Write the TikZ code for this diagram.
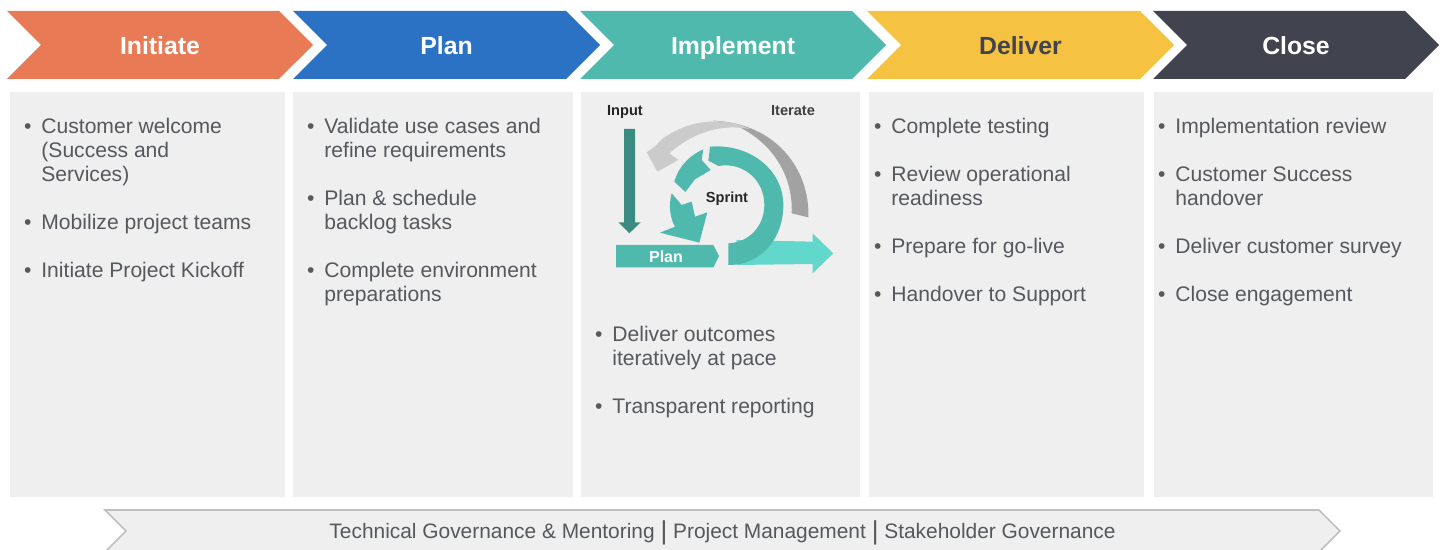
\documentclass[tikz,border=0pt]{standalone}
\usepackage{fontspec}
\setmainfont{Liberation Sans}
\usetikzlibrary{shapes.symbols}
\definecolor{initcol}{HTML}{E97A56}
\definecolor{plancol}{HTML}{2C72C4}
\definecolor{implcol}{HTML}{4FB9AE}
\definecolor{delvcol}{HTML}{F5C242}
\definecolor{closecol}{HTML}{41444F}
\definecolor{panelcol}{HTML}{EFEFEF}
\definecolor{textcol}{HTML}{55585C}
\definecolor{inputcol}{HTML}{3A8C80}
\definecolor{outcol}{HTML}{62D8CC}
\definecolor{iterdark}{HTML}{A2A2A2}
\definecolor{iterlight}{HTML}{CBCBCB}
\newcommand{\bul}{\strut\makebox[0pt][r]{\textbullet\hspace{5pt}}}
\newcommand{\tallbar}{{\fontsize{13}{13}\selectfont\raisebox{-0.4pt}{|}}}
\tikzset{
	phase/.style={signal, signal to=east, signal from=west, signal pointer angle=90,
		minimum height=34pt, inner sep=0pt, outer sep=0pt, text=white,
		text height=9.6pt, text depth=0pt,
		font=\fontsize{12.4}{14}\selectfont\bfseries},
	panel/.style={anchor=north west, fill=panelcol, minimum height=202.5pt, inner sep=0pt},
	itemtext/.style={anchor=north west, inner sep=0pt, align=left, text=textcol,
		font=\fontsize{10.55}{12}\selectfont},
	smalllabel/.style={inner sep=0pt, text height=5.3pt, text depth=0pt,
		font=\fontsize{7.3}{8}\selectfont\bfseries}
}
\begin{document}
\begin{tikzpicture}[x=0.5pt, y=-0.5pt]
	\useasboundingbox (0,0) rectangle (1443,550);
	\node[phase, fill=initcol, minimum width=153pt] (initiate) at (160,45) {Initiate};
	\node[phase, fill=plancol, minimum width=153.5pt] (plan) at (446.5,45) {Plan};
	\node[phase, fill=implcol, minimum width=153pt] (implement) at (733,45) {Implement};
	\node[phase, fill=delvcol, text=closecol, minimum width=153.5pt] (deliver) at (1020.5,45) {Deliver};
	\node[phase, fill=closecol, minimum width=143pt] (close) at (1296,45) {Close};
	\node[panel, minimum width=137.5pt] (initpanel) at (10,92) {};
	\node[panel, minimum width=140pt] (planpanel) at (293,92) {};
	\node[panel, minimum width=139.5pt] (implpanel) at (581,92) {};
	\node[panel, minimum width=137.5pt] (delvpanel) at (869,92) {};
	\node[panel, minimum width=139.5pt] (closepanel) at (1154,92) {};
	\node[itemtext] (init1) at (41,116) {\bul Customer welcome\\(Success and\\Services)};
	\node[itemtext] (init2) at (41,212) {\bul Mobilize project teams};
	\node[itemtext] (init3) at (41,260) {\bul Initiate Project Kickoff};
	\node[itemtext] (plan1) at (324,116) {\bul Validate use cases and\\refine requirements};
	\node[itemtext] (plan2) at (324,188) {\bul Plan \& schedule\\backlog tasks};
	\node[itemtext] (plan3) at (324,260) {\bul Complete environment\\preparations};
	\node[itemtext] (impl1) at (612,324) {\bul Deliver outcomes\\iteratively at pace};
	\node[itemtext] (impl2) at (612,396) {\bul Transparent reporting};
	\node[itemtext] (delv1) at (891,116) {\bul Complete testing};
	\node[itemtext] (delv2) at (891,164) {\bul Review operational\\readiness};
	\node[itemtext] (delv3) at (891,236) {\bul Prepare for go-live};
	\node[itemtext] (delv4) at (891,284) {\bul Handover to Support};
	\node[itemtext] (close1) at (1175,116) {\bul Implementation review};
	\node[itemtext] (close2) at (1175,164) {\bul Customer Success\\handover};
	\node[itemtext] (close3) at (1175,236) {\bul Deliver customer survey};
	\node[itemtext] (close4) at (1175,284) {\bul Close engagement};
	\node[signal, signal to=east, signal from=west, signal pointer angle=90, draw=black!25, fill=panelcol,
		line width=0.8pt, minimum width=617.5pt, minimum height=21pt, inner sep=0pt, text=textcol,
		text height=7.6pt, text depth=0pt,
		font=\fontsize{10.45}{12}\selectfont] (governance) at (722.5,531)
		{Technical Governance \& Mentoring \tallbar{} Project Management \tallbar{} Stakeholder Governance};
	\begin{scope}[shift={(580,90)}, scale=1/3]
		\fill[iterdark] (685,382) .. controls (690,240) and (590,100) .. (400,92)
			-- (460,103) .. controls (570,150) and (640,250) .. (635,370) -- cycle;
		\fill[iterlight] (510,118) .. controls (440,80) and (330,85) .. (245,148) -- (226,168)
			-- (200,187) -- (232,245) -- (295,210) -- (268,190)
			.. controls (340,125) and (430,100) .. (510,118) -- cycle;
		\fill[inputcol] (132,117) -- (165,117) -- (165,397) -- (182,397)
			-- (148,430) -- (115,397) -- (132,397) -- cycle;
		\fill[outcol] (470,450) -- (698,455) -- (698,430) -- (760,490)
			-- (698,550) -- (698,522) -- (470,525) -- cycle;
		\fill[implcol] (445,525) .. controls (545,525) and (610,445) .. (610,345)
			.. controls (610,240) and (510,160) .. (390,170) -- (385,212) -- (415,228)
			.. controls (490,215) and (553,270) .. (553,345)
			.. controls (553,410) and (505,458) .. (445,460) -- cycle;
		\fill[implcol] (283,275) .. controls (295,230) and (330,195) .. (370,178)
			-- (365,210) -- (392,240) -- (345,268) -- (316,306) -- cycle;
		\fill[implcol] (275,310) .. controls (265,345) and (270,385) .. (285,410)
			-- (240,428) -- (358,458) -- (382,367) -- (345,380) -- (335,335) -- (305,345) -- cycle;
		\fill[implcol] (108,465) -- (400,465) -- (417,498) -- (400,532) -- (108,532) -- cycle;
	\end{scope}
	\node[smalllabel, text=black!85] (inputlbl) at (625,110) {Input};
	\node[smalllabel, text=black!75] (iteratelbl) at (793,110) {Iterate};
	\node[smalllabel, text=black!85] (sprintlbl) at (727,197) {Sprint};
	\node[smalllabel, text=white, text height=5.8pt, font=\fontsize{8}{9}\selectfont\bfseries] (planlbl) at (666,257) {Plan};
\end{tikzpicture}
\end{document}
